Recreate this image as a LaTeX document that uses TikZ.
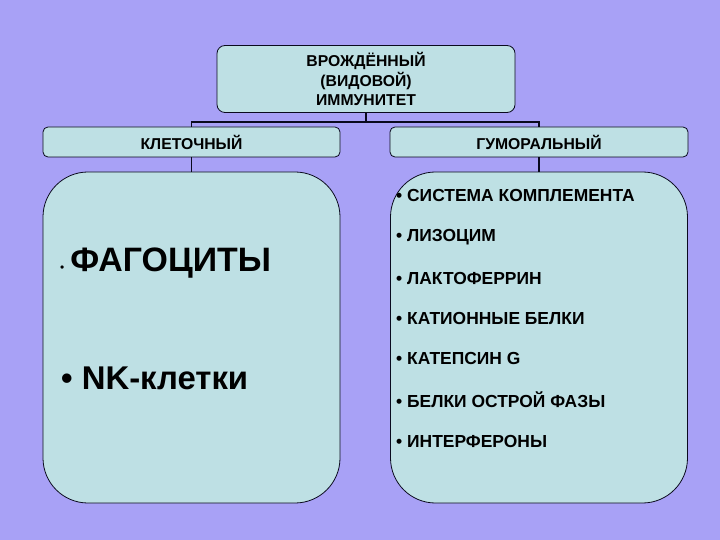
\documentclass[tikz,border=0pt]{standalone}
\usepackage{fontspec}
\setmainfont{Liberation Sans}
\usepackage{tikz}
\usetikzlibrary{positioning, calc}
\definecolor{mybg}{RGB}{168,161,246}
\definecolor{myfill}{RGB}{190,224,228}
\definecolor{mydark}{RGB}{10,10,30}
\tikzset{
  head/.style={rectangle, draw=mydark, fill=myfill, align=center,
    font=\fontsize{15.8}{20}\selectfont\bfseries, rounded corners=5pt, line width=0.8pt},
  big/.style={rectangle, draw=mydark, fill=myfill, minimum width=297bp,
    minimum height=331bp, rounded corners=45bp, line width=0.8pt},
  conn/.style={line width=2pt, color=mydark},
  item/.style={anchor=west, font=\fontsize{17.5}{19}\selectfont\bfseries, inner sep=0pt}
}

\begin{document}
\begin{tikzpicture}[x=1bp, y=-1bp]
\useasboundingbox[fill=mybg] (0,0) rectangle (720,540);

% Top
\node[head, minimum width=298bp, minimum height=67bp, rounded corners=8bp] (top) at (366, 79)
  {ВРОЖДЁННЫЙ\\(ВИДОВОЙ)\\ИММУНИТЕТ};

% Headers
\node[head, minimum width=297bp, minimum height=30bp] (cell) at (191.5, 142) {КЛЕТОЧНЫЙ};
\node[head, minimum width=298bp, minimum height=30bp] (hum) at (539, 142) {ГУМОРАЛЬНЫЙ};

% Boxes
\node[big] (cellbox) at (191.5, 337.5) {};
\node[big] (humbox) at (539, 337.5) {};

% Connectors
\draw[conn] (top.south) -- ++(0,9) coordinate (split);
\draw[conn] (split) -| (cell.north);
\draw[conn] (split) -| (hum.north);
\draw[conn] (cell.south) -- (cellbox.north);
\draw[conn] (hum.south) -- (humbox.north);

% Cells
\node[anchor=west, inner sep=0pt] (phag) at (60, 263)
  {{\fontsize{12}{14}\selectfont •}\hspace{6bp}{\fontsize{34}{38}\selectfont\bfseries ФАГОЦИТЫ}};
\node[anchor=west, inner sep=0pt, font=\fontsize{33}{37}\selectfont\bfseries] (nk) at (61, 378)
  {• NK-клетки};

% Humoral factors
\foreach \i/\y/\t in {1/195/СИСТЕМА КОМПЛЕМЕНТА, 2/237/ЛИЗОЦИМ, 3/278/ЛАКТОФЕРРИН,
    4/318/КАТИОННЫЕ БЕЛКИ, 5/358/КАТЕПСИН G, 6/400/БЕЛКИ ОСТРОЙ ФАЗЫ, 7/441/ИНТЕРФЕРОНЫ}
  \node[item] (f\i) at (396, \y) {• \t};
\end{tikzpicture}
\end{document}
